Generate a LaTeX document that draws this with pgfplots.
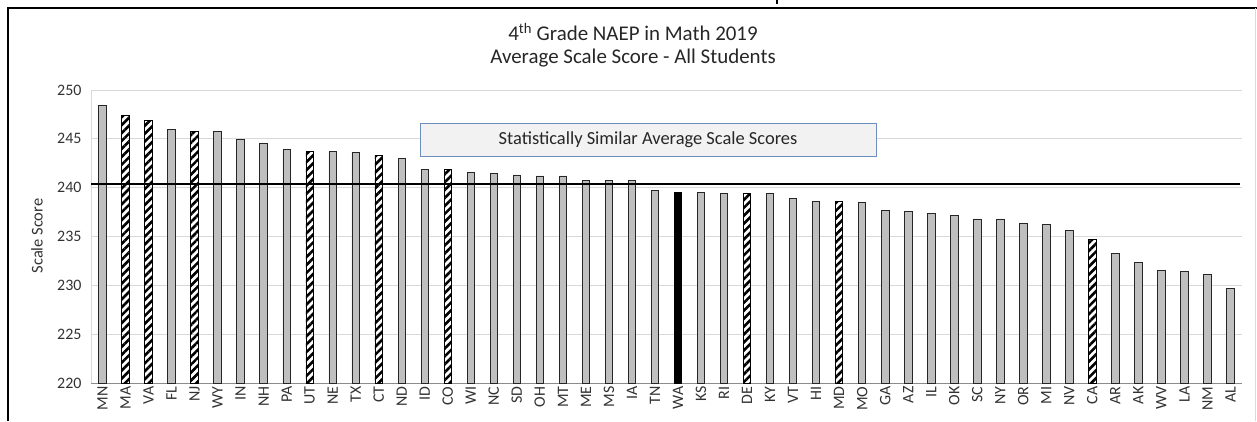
\documentclass[border=0pt]{standalone}
\usepackage{pgfplots}
\pgfplotsset{compat=1.18}
\usepackage{fontspec}
\setmainfont{Carlito}
\usetikzlibrary{patterns.meta}
\definecolor{barg}{RGB}{191,191,191}
\definecolor{gridg}{RGB}{217,217,217}
\definecolor{boxblue}{RGB}{109,142,191}
\definecolor{boxfill}{RGB}{242,242,242}
\definecolor{txt}{RGB}{50,50,50}
\begin{document}
\begin{tikzpicture}[x=1bp,y=1bp]
\useasboundingbox (0,0) rectangle (1257,421);
\draw[black, line width=1.6bp] (8,0) -- (8,413) -- (1257,413);
\draw[gridg, line width=0.8bp] (1255.5,0) -- (1255.5,413);
\draw[black, line width=1.2bp] (777,421) -- (777,417);
\node[font=\fontsize{21}{24}\selectfont, text=black!85] at (633,389) {4\textsuperscript{th} Grade NAEP in Math 2019};
\node[font=\fontsize{21}{24}\selectfont, text=black!85] at (633,363) {Average Scale Score - All Students};
\node[rotate=90, font=\fontsize{16.5}{18}\selectfont, text=txt] at (37,185) {Scale Score};
\begin{axis}[
  at={(91bp,38bp)}, anchor=south west,
  scale only axis, width=1151bp, height=293bp,
  xmin=-0.5, xmax=49.5, ymin=220, ymax=250,
  ytick={220,225,230,235,240,245,250},
  xtick={0,...,49},
  xticklabels={MN,MA,VA,FL,NJ,WY,IN,NH,PA,UT,NE,TX,CT,ND,ID,CO,WI,NC,SD,OH,MT,ME,MS,IA,TN,WA,KS,RI,DE,KY,VT,HI,MD,MO,GA,AZ,IL,OK,SC,NY,OR,MI,NV,CA,AR,AK,WV,LA,NM,AL},
  x tick label style={rotate=90, anchor=east, font=\fontsize{16}{18}\selectfont, text=txt},
  y tick label style={font=\fontsize{16}{18}\selectfont, text=txt, xshift=-6bp},
  /pgf/number format/assume math mode=true,
  major tick length=0pt,
  ymajorgrids, grid style={draw=gridg, line width=0.8bp},
  axis x line*=bottom, axis y line*=left,
  axis line style={-, draw=gridg, line width=0.8bp},
  x axis line style={draw=black!45},
  ybar, bar width=7.5bp,
  every axis plot/.append style={bar shift=0pt},
  clip=true,
]
\addplot[draw=black!85, line width=0.8bp, fill=barg] coordinates {
(0,248.4) (3,246.0) (5,245.8) (6,244.9) (7,244.5) (8,243.9) (10,243.7) (11,243.6) (13,243.0)
(14,241.9) (16,241.6) (17,241.5) (18,241.3) (19,241.2) (20,241.2) (21,240.7) (22,240.7) (23,240.7)
(24,239.7) (26,239.5) (27,239.4) (29,239.4) (30,238.9) (31,238.6) (33,238.5) (34,237.7) (35,237.6)
(36,237.4) (37,237.2) (38,236.8) (39,236.8) (40,236.3) (41,236.2) (42,235.6) (44,233.3) (45,232.3)
(46,231.5) (47,231.4) (48,231.1) (49,229.7)};
\addplot[draw=black, line width=0.8bp, fill=white, pattern={Lines[angle=45,distance=5.6bp,line width=2.6bp]}, pattern color=black] coordinates {
(1,247.4) (2,246.9) (4,245.8) (9,243.7) (12,243.3) (15,241.9) (28,239.4) (32,238.6) (43,234.7)};
\addplot[draw=black, line width=0.8bp, fill=black] coordinates {(25,239.5)};
\addplot[sharp plot, black, line width=2.5bp, forget plot] coordinates {(-0.5,240.4) (49.4,240.4)};
\node[draw=boxblue, line width=0.9bp, fill=boxfill, minimum width=456bp, minimum height=33bp, font=\fontsize{18.5}{20}\selectfont, text=black!85] at (axis cs:23.7,244.92) {Statistically Similar Average Scale Scores};
\end{axis}
\end{tikzpicture}
\end{document}
